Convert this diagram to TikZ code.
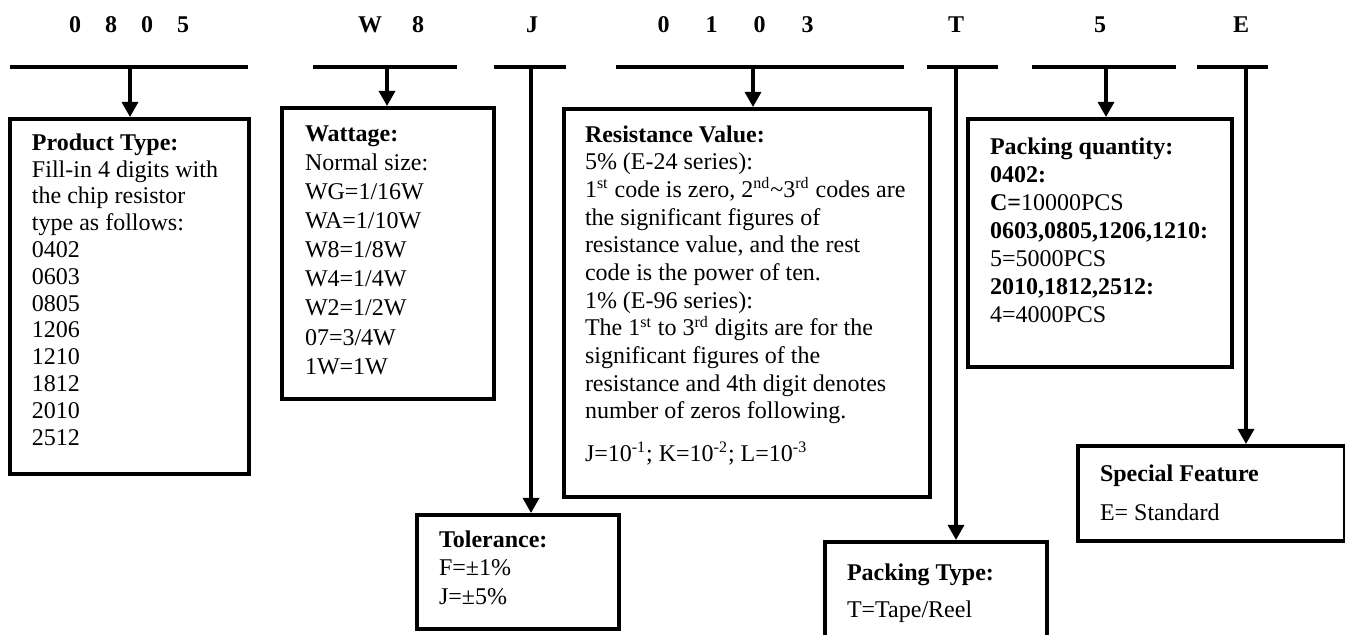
\documentclass[tikz,border=0pt]{standalone}
\usepackage{fontspec}
\setmainfont{Liberation Serif}
\usetikzlibrary{arrows.meta}
\tikzset{>={Triangle[width=8pt,length=7.5pt]}}
\tikzset{
  part/.style={draw,line width=2pt,anchor=north west,inner xsep=11pt},
  bar/.style={line width=2.25pt},
  lead/.style={line width=1.6pt,->},
  code/.style={font=\fontsize{12}{14}\selectfont\bfseries},
}
\newcommand{\partbox}[4]{\parbox[t][#2][t]{#1}{\fontsize{12}{#3}\selectfont\raggedright #4}}

\begin{document}
\begin{tikzpicture}[x=0.5pt,y=-0.5pt]
       \useasboundingbox (0,0) rectangle (1345,635);
       \clip (0,0) rectangle (1345,635);
       \node[code] (c1) at (129,25) {0\hspace{12pt}8\hspace{12pt}0\hspace{12pt}5};
       \node[code] (c2) at (391,25) {W\hspace{15pt}8};
       \node[code] (c3) at (532,25) {J};
       \node[code] (c4) at (735.5,25) {0\hspace{18pt}1\hspace{18pt}0\hspace{18pt}3};
       \node[code] (c5) at (956,25) {T};
       \node[code] (c6) at (1100,25) {5};
       \node[code] (c7) at (1241,25) {E};
       \draw[bar] (10,67) -- (248,67);
       \draw[bar] (313,67) -- (457,67);
       \draw[bar] (494,67) -- (566,67);
       \draw[bar] (616,67) -- (904,67);
       \draw[bar] (927,67) -- (998,67);
       \draw[bar] (1032,67) -- (1176,67);
       \draw[bar] (1197,67) -- (1268,67);
       \coordinate (a1) at (130,67);
       \coordinate (a2) at (387,67);
       \coordinate (a3) at (531,67);
       \coordinate (a4) at (753,67);
       \coordinate (a5) at (956,67);
       \coordinate (a6) at (1106,67);
       \coordinate (a7) at (1246,67);
       \node[part,inner ysep=7.3pt] (prod) at (8,117) {\partbox{97.5pt}{162.9pt}{13.4pt}{\textbf{Product Type:}\\Fill-in 4 digits with\\the chip resistor\\type as follows:\\0402\\0603\\0805\\1206\\1210\\1812\\2010\\2512}};
       \node[part,inner xsep=11.5pt,inner ysep=8.8pt] (watt) at (280,106) {\partbox{83pt}{127.9pt}{14.55pt}{\textbf{Wattage:}\\Normal size:\\WG=1/16W\\WA=1/10W\\W8=1/8W\\W4=1/4W\\W2=1/2W\\07=3/4W\\1W=1W}};
       \node[part,inner xsep=10.5pt,inner ysep=8.3pt] (res) at (562,107) {\partbox{162pt}{177.4pt}{13.83pt}{\textbf{Resistance Value:}\\5\% (E-24 series):\\1\textsuperscript{st} code is zero, 2\textsuperscript{nd}\textasciitilde 3\textsuperscript{rd} codes are\\the significant figures of\\resistance value, and the rest\\code is the power of ten.\\1\% (E-96 series):\\The 1\textsuperscript{st} to 3\textsuperscript{rd} digits are for the\\significant figures of the\\resistance and 4th digit denotes\\number of zeros following.\\[7.5pt]J=10\textsuperscript{-1}; K=10\textsuperscript{-2}; L=10\textsuperscript{-3}}};
       \node[part,inner ysep=7.8pt] (tol) at (415,513) {\partbox{79pt}{41.4pt}{14.25pt}{\textbf{Tolerance:}\\F=±1\%\\J=±5\%}};
       \node[part,inner ysep=9.3pt] (qty) at (966,117) {\partbox{110pt}{105.4pt}{14pt}{\textbf{Packing quantity:}\\\textbf{0402:}\\\textbf{C=}10000PCS\\\textbf{0603,0805,1206,1210:}\\5=5000PCS\\\textbf{2010,1812,2512:}\\4=4000PCS}};
       \node[part,inner ysep=9.3pt] (spec) at (1076,444) {\partbox{111.5pt}{28.9pt}{19.5pt}{\textbf{Special Feature}\\E= Standard}};
       \node[part,inner ysep=10.8pt] (pack) at (823,540) {\partbox{89pt}{48.4pt}{18.5pt}{\textbf{Packing Type:}\\T=Tape/Reel}};
       \draw[lead] (a1) -- (a1 |- prod.north);
       \draw[lead] (a2) -- (a2 |- watt.north);
       \draw[lead] (a3) -- (a3 |- tol.north);
       \draw[lead] (a4) -- (a4 |- res.north);
       \draw[lead] (a5) -- (a5 |- pack.north);
       \draw[lead] (a6) -- (a6 |- qty.north);
       \draw[lead] (a7) -- (a7 |- spec.north);
\end{tikzpicture}
\end{document}
